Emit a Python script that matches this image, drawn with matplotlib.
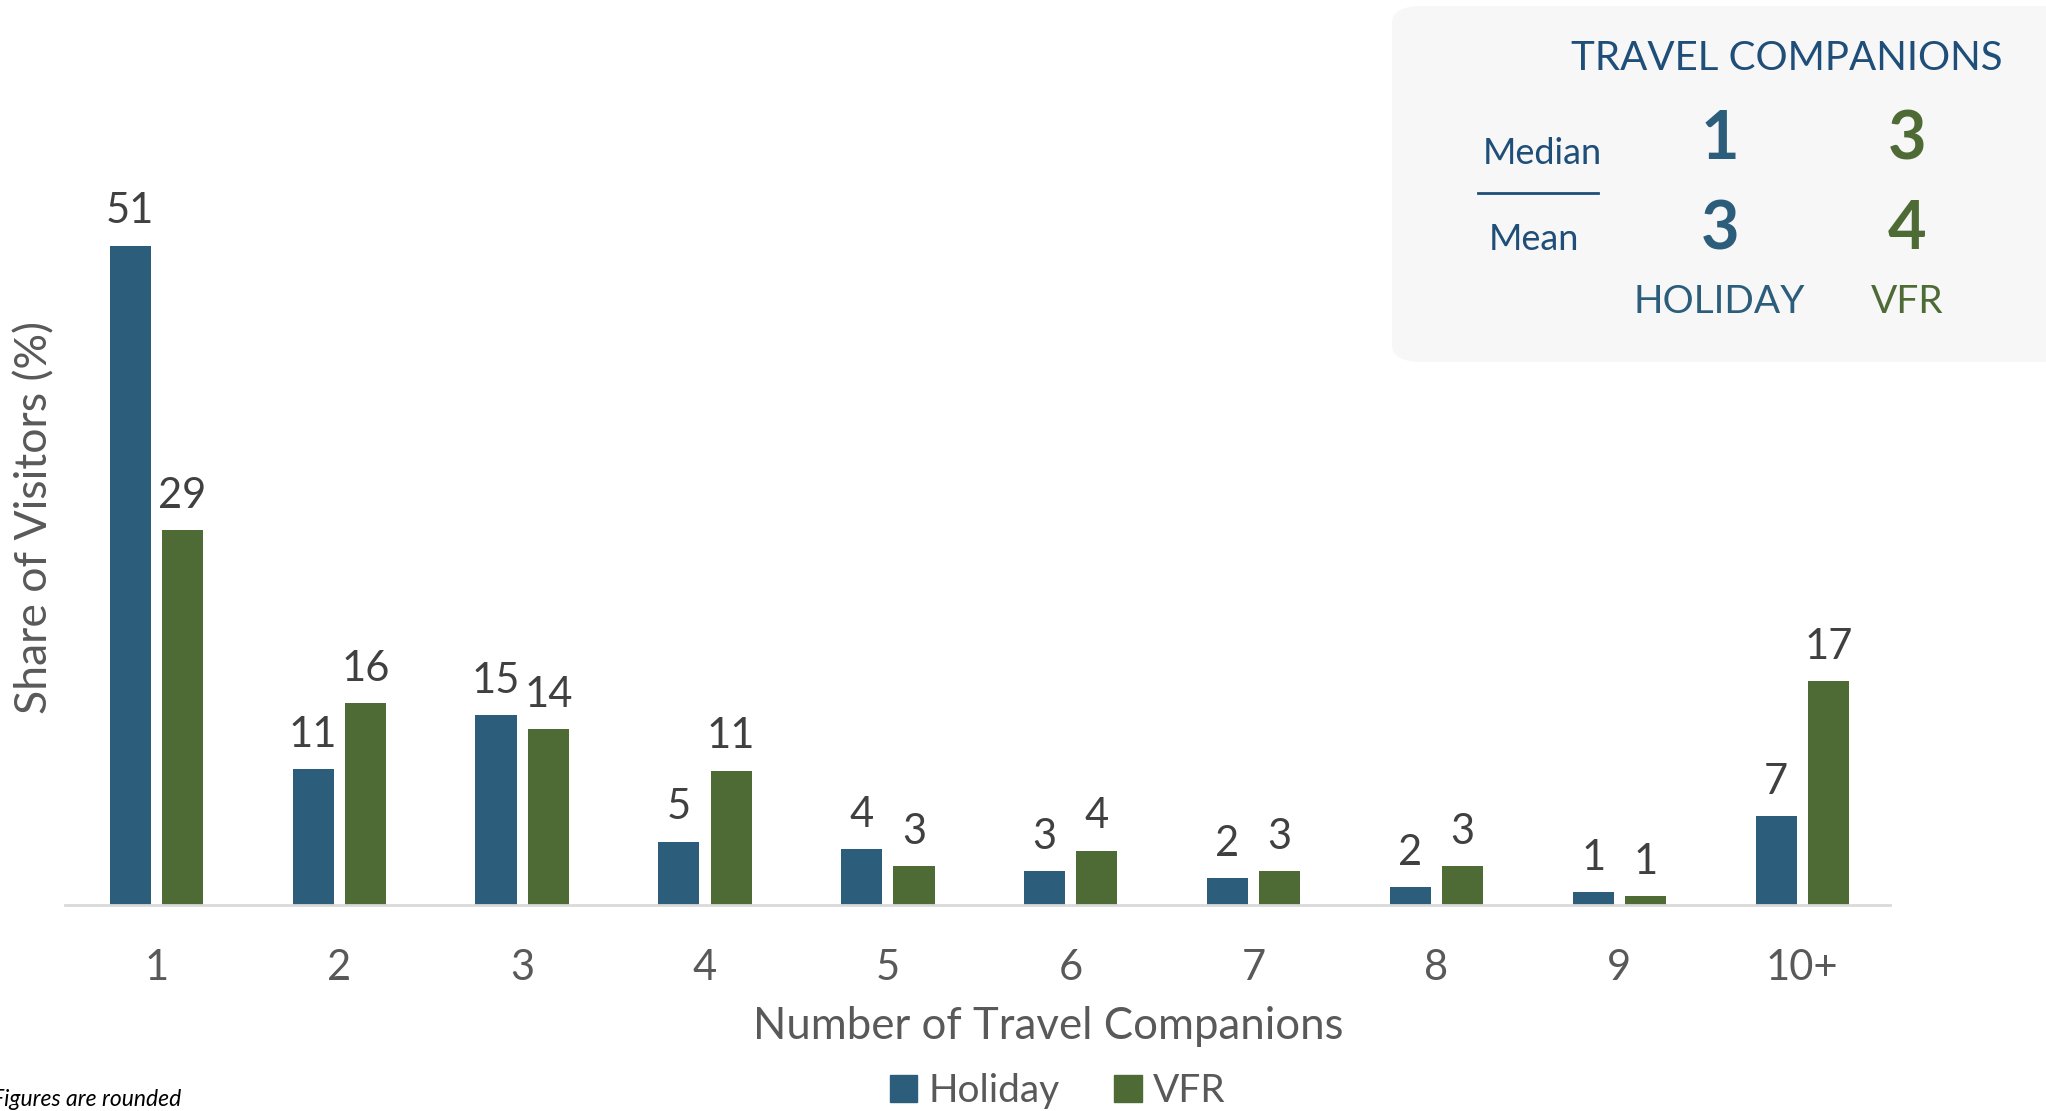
import matplotlib
matplotlib.use('Agg')
import matplotlib.pyplot as plt
from matplotlib.patches import FancyBboxPatch, Patch
import numpy as np

plt.rcParams['font.family'] = ['Lato', 'DejaVu Sans']

# 数据
categories = ['1', '2', '3', '4', '5', '6', '7', '8', '9', '10+']
holiday = [51, 10.5, 14.7, 4.9, 4.3, 2.6, 2.1, 1.4, 1.0, 6.9]
vfr = [29, 15.6, 13.6, 10.4, 3.0, 4.2, 2.6, 3.0, 0.7, 17.3]
holiday_labels = ['51', '11', '15', '5', '4', '3', '2', '2', '1', '7']
vfr_labels = ['29', '16', '14', '11', '3', '4', '3', '3', '1', '17']

# 汇总框里的数字
stat_rows = ['Median', 'Mean']
holiday_stats = ['1', '3']
vfr_stats = ['3', '4']

c_hol = '#2C5D7B'
c_vfr = '#4E6B36'
c_txt = '#404040'
c_axis = '#595959'
c_title = '#1F4E79'

fig = plt.figure(figsize=(20.46, 11.11), dpi=100)
ax = fig.add_axes([65 / 2046, 1 - 905 / 1111, 1825 / 2046, 905 / 1111])

x = np.arange(len(categories))
w = 0.225
off = 0.143
b1 = ax.bar(x - off, holiday, w, color=c_hol, label='Holiday')
b2 = ax.bar(x + off, vfr, w, color=c_vfr, label='VFR')

# 柱子上方的数值
for bars, labs in [(b1, holiday_labels), (b2, vfr_labels)]:
    for rect, lab in zip(bars, labs):
        ax.annotate(lab, (rect.get_x() + rect.get_width() / 2, rect.get_height()),
                    xytext=(0, 11), textcoords='offset points',
                    ha='center', va='bottom', fontsize=30, color=c_txt)

ax.set_xlim(-0.5, 9.48)
ax.set_ylim(0, 70)
ax.set_xticks(x)
ax.set_xticklabels(categories, fontsize=30, color=c_axis)
ax.tick_params(axis='x', length=0, pad=32)
ax.set_yticks([])
for s in ['top', 'right', 'left']:
    ax.spines[s].set_visible(False)
ax.spines['bottom'].set_color('#D9D9D9')
ax.spines['bottom'].set_linewidth(2)
ax.set_xlabel('Number of Travel Companions', fontsize=31.5, color=c_axis)
ax.xaxis.set_label_coords(0.5386, -0.134)
ax.xaxis.label.set_va('center')
fig.text(35 / 2046, 1 - 517 / 1111, 'Share of Visitors (%)', rotation=90,
         ha='center', va='center', fontsize=32, color=c_axis)

# 图例
handles = [Patch(color=c_hol, label='Holiday'), Patch(color=c_vfr, label='VFR')]
fig.legend(handles=handles, loc='center', bbox_to_anchor=(1058 / 2046, 1 - 1091 / 1111),
           ncol=2, frameon=False, fontsize=28, handlelength=0.7, handleheight=0.7,
           handletextpad=0.3, columnspacing=1.4, labelcolor=c_axis)

fig.text(-8 / 2046, 1 - 1099 / 1111, 'Figures are rounded', fontsize=16.5,
         style='italic', color='black', ha='left', va='center')

# 右上角的汇总框
box = FancyBboxPatch((1392 / 2046, 1 - 362 / 1111), 700 / 2046, 356 / 1111,
                     boxstyle='round,pad=0,rounding_size=0.015',
                     transform=fig.transFigure, facecolor='#F7F7F7',
                     edgecolor='none', zorder=0)
fig.patches.append(box)


def ft(px, py, s, **kw):
    fig.text(px / 2046, 1 - py / 1111, s, ha='center', va='center', **kw)


ft(1787, 59, 'TRAVEL COMPANIONS', fontsize=29, color=c_title)
ft(1542, 153, stat_rows[0], fontsize=26, color=c_title)
ft(1534, 240, stat_rows[1], fontsize=26, color=c_title)
fig.add_artist(plt.Line2D([1478 / 2046, 1598 / 2046], [1 - 193 / 1111, 1 - 193 / 1111],
                          color=c_title, lw=2, transform=fig.transFigure))
for i, yy in enumerate([140, 230]):
    ft(1720, yy, holiday_stats[i], fontsize=48, fontweight='bold', color=c_hol)
    ft(1907, yy, vfr_stats[i], fontsize=48, fontweight='bold', color=c_vfr)
ft(1719, 302, 'HOLIDAY', fontsize=28, color=c_hol)
ft(1907, 302, 'VFR', fontsize=28, color=c_vfr)

fig.savefig('out.png', dpi=100)
